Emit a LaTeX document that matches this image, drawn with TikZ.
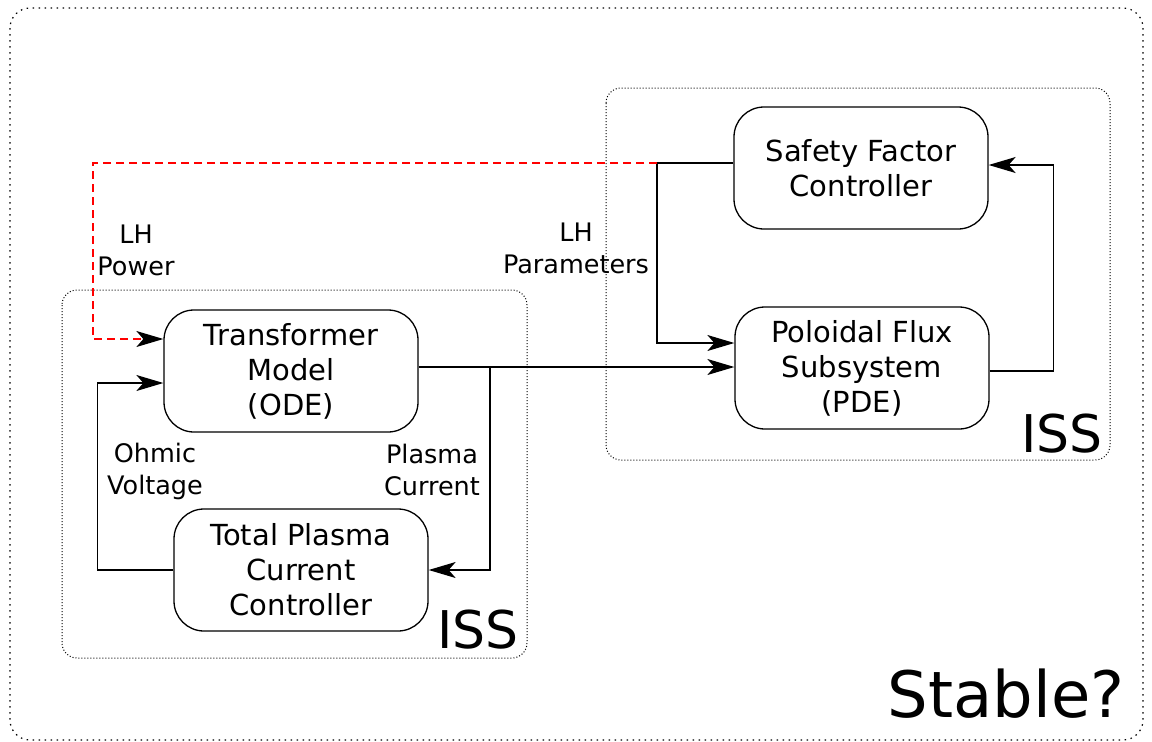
\documentclass[tikz,border=0pt]{standalone}
\usepackage{fontspec}
\setmainfont{DejaVu Sans}
\usetikzlibrary{arrows.meta}

\tikzset{
  block/.style={draw, rounded corners=30pt, line width=1.3pt, align=center,
    minimum width=254pt, minimum height=122pt, inner sep=0pt,
    font=\fontsize{29}{35}\selectfont},
  lbl/.style={align=center, font=\fontsize{25.5}{32}\selectfont},
  arr/.style={line width=1.3pt, -{Stealth[length=27pt,width=16pt,inset=7pt,color=black]}},
  grp/.style={dotted, line width=1pt, rounded corners=15pt}
}

\begin{document}
\begin{tikzpicture}[x=1pt,y=-1pt]
\useasboundingbox (0,0) rectangle (1152,742);

% dotted frames
\draw[line width=1.2pt, dash pattern=on 1.5pt off 4.5pt, rounded corners=20pt] (10,8) rectangle (1143,740);
\draw[grp] (606,88) rectangle (1110,460);
\draw[grp] (62,290) rectangle (527,658);

% blocks
\node[block] (safety) at (861,168) {Safety Factor\\Controller};
\node[block] (poloidal) at (862,368) {Poloidal Flux\\Subsystem\\(PDE)};
\node[block] (transformer) at (291,371) {Transformer\\Model\\(ODE)};
\node[block] (plasmactrl) at (301,570) {Total Plasma\\Current\\Controller};

% labels
\node[lbl] (lhpower) at (136,250) {LH\\Power};
\node[lbl] (lhparam) at (576,248) {LH\\Parameters};
\node[lbl] (ohmic) at (155,471) {Ohmic\\Voltage};
\node[lbl] (plcurr) at (432,470) {Plasma\\Current};
\node[font=\fontsize{52}{60}\selectfont] (issright) at (1062,434) {ISS};
\node[font=\fontsize{52}{60}\selectfont] (issleft) at (478,630) {ISS};
\node[font=\fontsize{64}{70}\selectfont] (stable) at (1006,694) {Stable?};

% connectors
\coordinate (lhj) at (657,163);
\coordinate (lhc) at (93,339);
\coordinate (pcj) at (490,367);
\draw[line width=1.3pt] ([yshift=5pt]safety.west) -- (lhj);
\draw[arr] (lhj) |- ([yshift=25pt]poloidal.west);
\draw[arr, red, dash pattern=on 8pt off 5pt] (lhj) -| (lhc) -- (transformer.west |- lhc);
\draw[arr] ([yshift=4pt]transformer.east) -- (pcj) -- (pcj -| poloidal.west);
\draw[arr] (pcj) |- (plasmactrl.east);
\draw[arr] (plasmactrl.west) -- ++(-76,0) |- ([yshift=-12pt]transformer.west);
\draw[arr] ([yshift=-3pt]poloidal.east) -- ++(64,0) |- ([yshift=3pt]safety.east);
\end{tikzpicture}
\end{document}
